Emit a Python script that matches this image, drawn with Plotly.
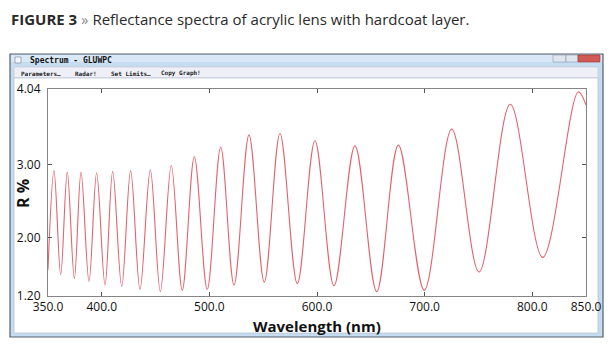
import plotly.graph_objects as go

W, H = 615, 350

# Fringe extrema of the measured spectrum: wavelength (nm) and reflectance (R %)
wavelength = [350.0, 355.6, 361.8, 367.9, 374.5, 380.7, 388.1, 395.2, 403.0, 410.1,
              418.5, 426.8, 435.5, 445.1, 454.4, 464.6, 474.8, 486.0, 498.0, 510.5,
              522.9, 536.8, 551.0, 565.6, 581.7, 598.1, 615.8, 635.3, 655.5, 675.6,
              699.7, 725.2, 750.6, 779.6, 809.8, 842.8, 850.0]
reflectance = [1.56, 2.92, 1.49, 2.90, 1.44, 2.90, 1.40, 2.89, 1.35, 2.91,
               1.33, 2.92, 1.29, 2.93, 1.26, 2.99, 1.28, 3.11, 1.29, 3.24,
               1.35, 3.41, 1.39, 3.43, 1.37, 3.33, 1.34, 3.26, 1.26, 3.27,
               1.28, 3.49, 1.53, 3.83, 1.73, 4.00, 3.82]

x_ticks = [350, 400, 500, 600, 700, 800, 850]
x_tick_text = ["350.0", "400.0", "500.0", "600.0", "700.0", "800.0", "850.0"]
y_ticks = [1.20, 2.00, 3.00, 4.04]
y_tick_text = ["1.20", "2.00", "3.00", "4.04"]

# plot box in pixels
PX0, PX1, PY0, PY1 = 48, 586, 89, 296


def px(x):
    return x / W


def py(y):
    return 1 - y / H


fig = go.Figure()
fig.add_trace(go.Scatter(
    x=wavelength, y=reflectance, mode="lines",
    line=dict(color="#e3626e", width=1.1, shape="spline", smoothing=1.0),
    hoverinfo="skip", showlegend=False,
))

axis_common = dict(
    showgrid=False, zeroline=False, showline=True, linecolor="#858585", linewidth=1,
    ticks="inside", ticklen=4, tickcolor="#555", mirror="allticks",
    tickfont=dict(family="Open Sans", size=12, color="#111"), automargin=False,
)
fig.update_xaxes(range=[350, 850], tickvals=x_ticks, ticktext=x_tick_text,
                 domain=[px(PX0), px(PX1)], ticklabelstandoff=0, **axis_common)
fig.update_yaxes(range=[1.20, 4.04], tickvals=y_ticks, ticktext=y_tick_text,
                 domain=[py(PY1), py(PY0)], ticklabelstandoff=4, **axis_common)

shapes = []
# application window: outer frame, title bar, menu bar, client area
shapes.append(dict(type="rect", xref="paper", yref="paper", layer="below",
                   x0=px(10), x1=px(603), y0=py(337), y1=py(54),
                   line=dict(color="#55606b", width=1.2), fillcolor="#c6dcf0"))
shapes.append(dict(type="rect", xref="paper", yref="paper", layer="below",
                   x0=px(11), x1=px(602), y0=py(62), y1=py(55),
                   line=dict(width=0), fillcolor="#d9e8f6"))
shapes.append(dict(type="rect", xref="paper", yref="paper", layer="below",
                   x0=px(14), x1=px(598), y0=py(78), y1=py(67),
                   line=dict(color="#b9c4d2", width=0.6), fillcolor="#eff0f7"))
shapes.append(dict(type="rect", xref="paper", yref="paper", layer="below",
                   x0=px(14), x1=px(598), y0=py(333), y1=py(78),
                   line=dict(color="#aab8c8", width=0.6), fillcolor="#ffffff"))
# title bar icon
shapes.append(dict(type="rect", xref="paper", yref="paper", layer="below",
                   x0=px(15), x1=px(21), y0=py(63), y1=py(57),
                   line=dict(color="#6f7f90", width=0.6), fillcolor="#f4f6f8"))
# window control buttons
shapes.append(dict(type="rect", xref="paper", yref="paper", layer="below",
                   x0=px(553), x1=px(566), y0=py(62), y1=py(55),
                   line=dict(color="#8a98a8", width=0.6), fillcolor="#dfe6ee"))
shapes.append(dict(type="rect", xref="paper", yref="paper", layer="below",
                   x0=px(566), x1=px(578), y0=py(62), y1=py(55),
                   line=dict(color="#8a98a8", width=0.6), fillcolor="#dfe6ee"))
shapes.append(dict(type="rect", xref="paper", yref="paper", layer="below",
                   x0=px(578), x1=px(600), y0=py(62), y1=py(55),
                   line=dict(color="#9a3030", width=0.6), fillcolor="#d25a55"))

annotations = [
    dict(text="<b>FIGURE 3</b> <span style='color:#8a8a8a'>»</span> Reflectance spectra of acrylic lens with hardcoat layer.",
         x=px(9), y=py(19), xanchor="left", yanchor="middle",
         font=dict(family="Open Sans", size=15, color="#2a2a2a")),
    dict(text="<b>Spectrum - GLUWPC</b>", x=px(28), y=py(60), xanchor="left", yanchor="middle",
         font=dict(family="DejaVu Sans Mono", size=8, color="#111")),
    dict(text="<b>Parameters…</b>", x=px(19), y=py(73), xanchor="left", yanchor="middle",
         font=dict(family="DejaVu Sans Mono", size=6, color="#222")),
    dict(text="<b>Radar!</b>", x=px(73), y=py(73), xanchor="left", yanchor="middle",
         font=dict(family="DejaVu Sans Mono", size=6, color="#222")),
    dict(text="<b>Set Limits…</b>", x=px(109), y=py(73), xanchor="left", yanchor="middle",
         font=dict(family="DejaVu Sans Mono", size=6, color="#222")),
    dict(text="<b>Copy Graph!</b>", x=px(159), y=py(73), xanchor="left", yanchor="middle",
         font=dict(family="DejaVu Sans Mono", size=6, color="#222")),
    dict(text="<b>Wavelength (nm)</b>", x=px(317), y=py(325.5), xanchor="center", yanchor="middle",
         font=dict(family="Open Sans", size=15, color="#111")),
    dict(text="<b>R %</b>", x=px(23), y=py(194), xanchor="center", yanchor="middle", textangle=-90,
         font=dict(family="Open Sans", size=16, color="#111")),
]
for a in annotations:
    a.update(xref="paper", yref="paper", showarrow=False)

fig.update_layout(
    width=W, height=H, margin=dict(l=0, r=0, t=0, b=0),
    paper_bgcolor="#ffffff", plot_bgcolor="#ffffff",
    shapes=shapes, annotations=annotations,
)

fig.write_html("out.html")
